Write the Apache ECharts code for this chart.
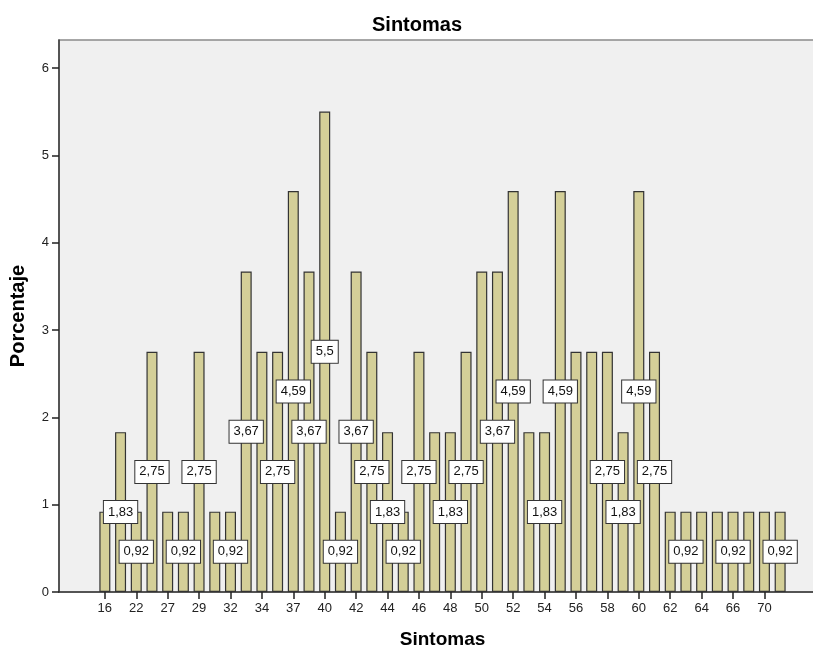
<!DOCTYPE html>
<html>
<head>
<meta charset="utf-8">
<script src="https://cdn.jsdelivr.net/npm/echarts@6/dist/echarts.min.js"></script>
<style>
html,body{margin:0;padding:0;background:#fff;}
#c{width:813px;height:649px;}
</style>
</head>
<body>
<div id="c"></div>
<script>
// Categories (Sintomas score values)
const categories = ['16','20','22','25','27','28','29','30','32','33','34','36','37','38','40','41','42','43','44','45','46','47','48','49','50','51','52','53','54','55','56','57','58','59','60','61','62','63','64','65','66','68','70','72'];
// Percentages
const percentages = [0.92,1.83,0.92,2.75,0.92,0.92,2.75,0.92,0.92,3.67,2.75,2.75,4.59,3.67,5.5,0.92,3.67,2.75,1.83,0.92,2.75,1.83,1.83,2.75,3.67,3.67,4.59,1.83,1.83,4.59,2.75,2.75,2.75,1.83,4.59,2.75,0.92,0.92,0.92,0.92,0.92,0.92,0.92,0.92];
// Indices of bars whose value label is visible in the original
const labelShown = [1,2,3,5,6,8,9,11,12,13,14,15,16,17,18,19,20,22,23,25,26,28,29,32,33,34,35,37,40,43];
const yTicks = [0,1,2,3,4,5,6];

const FONT = 'Liberation Sans, Arial, sans-serif';
const YMAX = 6.32;

const chart = echarts.init(document.getElementById('c'), null, {renderer:'canvas'});
const barData = percentages.map((v,i)=>({
  value: v,
  label: {show: labelShown.indexOf(i) >= 0}
}));

chart.setOption({
  animation: false,
  backgroundColor: '#ffffff',
  textStyle: {fontFamily: FONT},
  title: {
    text: 'Sintomas',
    left: 412, top: 10, textAlign: 'center',
    textStyle: {fontFamily: FONT, fontSize: 20, fontWeight: 'bold', color: '#000'}
  },
  grid: [
    {left: 59, right: -2, top: 40, bottom: 57, show: true, backgroundColor: '#f0f0f0', borderColor: '#8a8a8a', borderWidth: 1.5, outerBoundsMode: 'none', containLabel: false},
    {left: 97, right: 25, top: 40, bottom: 57, outerBoundsMode: 'none', containLabel: false}
  ],
  xAxis: [
    {gridIndex: 0, type: 'value', min: 0, max: 1, axisLabel: {show: false}, axisTick: {show: false}, splitLine: {show: false},
     axisLine: {show: true, onZero: false, lineStyle: {color: '#3a3a3a', width: 1.5}}},
    {gridIndex: 1, type: 'category', data: categories,
     axisLine: {show: false},
     axisTick: {show: true, interval: 1, alignWithLabel: true, length: 7, lineStyle: {color: '#222', width: 1.5}},
     axisLabel: {interval: 1, margin: 10, fontSize: 13, color: '#222', fontFamily: FONT},
     name: 'Sintomas', nameLocation: 'middle', nameGap: 38,
     nameTextStyle: {fontSize: 19, fontWeight: 'bold', color: '#000', fontFamily: FONT}}
  ],
  yAxis: [
    {gridIndex: 0, type: 'value', min: 0, max: YMAX, interval: 1,
     axisLine: {show: true, lineStyle: {color: '#3a3a3a', width: 1.5}},
     axisTick: {show: true, length: 7, lineStyle: {color: '#222', width: 1.5}, customValues: yTicks},
     axisLabel: {fontSize: 13, color: '#222', margin: 10, fontFamily: FONT, customValues: yTicks},
     splitLine: {show: false},
     name: 'Porcentaje', nameLocation: 'middle', nameGap: 31, nameRotate: 90,
     nameTextStyle: {fontSize: 20, fontWeight: 'bold', color: '#000', fontFamily: FONT}},
    {gridIndex: 1, type: 'value', min: 0, max: YMAX, show: false}
  ],
  series: [{
    type: 'bar',
    xAxisIndex: 1, yAxisIndex: 1,
    data: barData,
    barWidth: 11,
    itemStyle: {color: '#d4cf98', borderColor: '#333', borderWidth: 1.2},
    label: {
      position: 'inside',
      formatter: p => String(p.value).replace('.', ','),
      fontSize: 13, color: '#111', fontFamily: FONT,
      backgroundColor: '#ffffff', borderColor: '#333', borderWidth: 1,
      padding: [5, 4, 4, 4]
    },
    labelLayout: {hideOverlap: false}
  }]
});
</script>
</body>
</html>
